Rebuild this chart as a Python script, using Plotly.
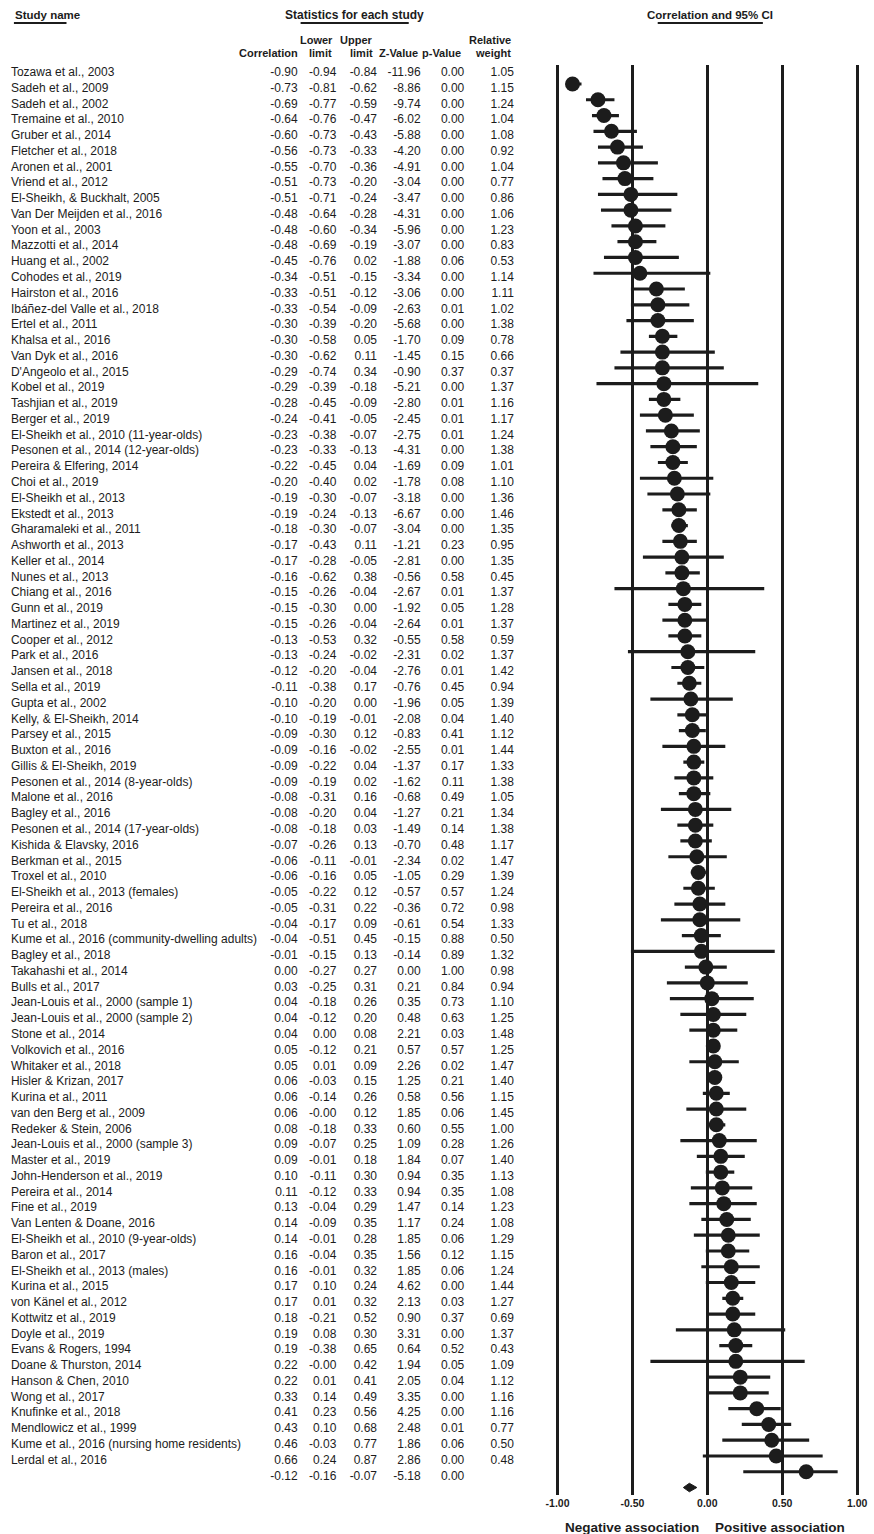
import plotly.graph_objects as go

# ---- study-level statistics -------------------------------------------------
studies = [
    "Tozawa et al., 2003", "Sadeh et al., 2009", "Sadeh et al., 2002", "Tremaine et al., 2010",
    "Gruber et al., 2014", "Fletcher et al., 2018", "Aronen et al., 2001", "Vriend et al., 2012",
    "El-Sheikh, & Buckhalt, 2005", "Van Der Meijden et al., 2016", "Yoon et al., 2003",
    "Mazzotti et al., 2014", "Huang et al., 2002", "Cohodes et al., 2019", "Hairston et al., 2016",
    "Ibáñez-del Valle et al., 2018", "Ertel et al., 2011", "Khalsa et al., 2016", "Van Dyk et al., 2016",
    "D'Angeolo et al., 2015", "Kobel et al., 2019", "Tashjian et al., 2019", "Berger et al., 2019",
    "El-Sheikh et al., 2010 (11-year-olds)", "Pesonen et al., 2014 (12-year-olds)",
    "Pereira & Elfering, 2014", "Choi et al., 2019", "El-Sheikh et al., 2013", "Ekstedt et al., 2013",
    "Gharamaleki et al., 2011", "Ashworth et al., 2013", "Keller et al., 2014", "Nunes et al., 2013",
    "Chiang et al., 2016", "Gunn et al., 2019", "Martinez et al., 2019", "Cooper et al., 2012",
    "Park et al., 2016", "Jansen et al., 2018", "Sella et al., 2019", "Gupta et al., 2002",
    "Kelly, & El-Sheikh, 2014", "Parsey et al., 2015", "Buxton et al., 2016", "Gillis & El-Sheikh, 2019",
    "Pesonen et al., 2014 (8-year-olds)", "Malone et al., 2016", "Bagley et al., 2016",
    "Pesonen et al., 2014 (17-year-olds)", "Kishida & Elavsky, 2016", "Berkman et al., 2015",
    "Troxel et al., 2010", "El-Sheikh et al., 2013 (females)", "Pereira et al., 2016", "Tu et al., 2018",
    "Kume et al., 2016 (community-dwelling adults)", "Bagley et al., 2018", "Takahashi et al., 2014",
    "Bulls et al., 2017", "Jean-Louis et al., 2000 (sample 1)", "Jean-Louis et al., 2000 (sample 2)",
    "Stone et al., 2014", "Volkovich et al., 2016", "Whitaker et al., 2018", "Hisler & Krizan, 2017",
    "Kurina et al., 2011", "van den Berg et al., 2009", "Redeker & Stein, 2006",
    "Jean-Louis et al., 2000 (sample 3)", "Master et al., 2019", "John-Henderson et al., 2019",
    "Pereira et al., 2014", "Fine et al., 2019", "Van Lenten & Doane, 2016",
    "El-Sheikh et al., 2010 (9-year-olds)", "Baron et al., 2017", "El-Sheikh et al., 2013 (males)",
    "Kurina et al., 2015", "von Känel et al., 2012", "Kottwitz et al., 2019", "Doyle et al., 2019",
    "Evans & Rogers, 1994", "Doane & Thurston, 2014", "Hanson & Chen, 2010", "Wong et al., 2017",
    "Knufinke et al., 2018", "Mendlowicz et al., 1999", "Kume et al., 2016 (nursing home residents)",
    "Lerdal et al., 2016",
]

correlation = [
    -0.90, -0.73, -0.69, -0.64, -0.60, -0.56, -0.55, -0.51, -0.51, -0.48, -0.48, -0.48, -0.45,
    -0.34, -0.33, -0.33, -0.30, -0.30, -0.30, -0.29, -0.29, -0.28, -0.24, -0.23, -0.23, -0.22,
    -0.20, -0.19, -0.19, -0.18, -0.17, -0.17, -0.16, -0.15, -0.15, -0.15, -0.13, -0.13, -0.12,
    -0.11, -0.10, -0.10, -0.09, -0.09, -0.09, -0.09, -0.08, -0.08, -0.08, -0.07, -0.06, -0.06,
    -0.05, -0.05, -0.04, -0.04, -0.01, 0.00, 0.03, 0.04, 0.04, 0.04, 0.05, 0.05, 0.06, 0.06,
    0.06, 0.08, 0.09, 0.09, 0.10, 0.11, 0.13, 0.14, 0.14, 0.16, 0.16, 0.17, 0.17, 0.18, 0.19,
    0.19, 0.22, 0.22, 0.33, 0.41, 0.43, 0.46, 0.66,
]

lower_limit = [
    -0.94, -0.81, -0.77, -0.76, -0.73, -0.73, -0.70, -0.73, -0.71, -0.64, -0.60, -0.69, -0.76,
    -0.51, -0.51, -0.54, -0.39, -0.58, -0.62, -0.74, -0.39, -0.45, -0.41, -0.38, -0.33, -0.45,
    -0.40, -0.30, -0.24, -0.30, -0.43, -0.28, -0.62, -0.26, -0.30, -0.26, -0.53, -0.24, -0.20,
    -0.38, -0.20, -0.19, -0.30, -0.16, -0.22, -0.19, -0.31, -0.20, -0.18, -0.26, -0.11, -0.16,
    -0.22, -0.31, -0.17, -0.51, -0.15, -0.27, -0.25, -0.18, -0.12, 0.00, -0.12, 0.01, -0.03,
    -0.14, -0.00, -0.18, -0.07, -0.01, -0.11, -0.12, -0.04, -0.09, -0.01, -0.04, -0.01, 0.10,
    0.01, -0.21, 0.08, -0.38, -0.00, 0.01, 0.14, 0.23, 0.10, -0.03, 0.24,
]

upper_limit = [
    -0.84, -0.62, -0.59, -0.47, -0.43, -0.33, -0.36, -0.20, -0.24, -0.28, -0.34, -0.19, 0.02,
    -0.15, -0.12, -0.09, -0.20, 0.05, 0.11, 0.34, -0.18, -0.09, -0.05, -0.07, -0.13, 0.04,
    0.02, -0.07, -0.13, -0.07, 0.11, -0.05, 0.38, -0.04, 0.00, -0.04, 0.32, -0.02, -0.04,
    0.17, 0.00, -0.01, 0.12, -0.02, 0.04, 0.02, 0.16, 0.04, 0.03, 0.13, -0.01, 0.05,
    0.12, 0.22, 0.09, 0.45, 0.13, 0.27, 0.31, 0.26, 0.20, 0.08, 0.21, 0.09, 0.15,
    0.26, 0.12, 0.33, 0.25, 0.18, 0.30, 0.33, 0.29, 0.35, 0.28, 0.35, 0.32, 0.24,
    0.32, 0.52, 0.30, 0.65, 0.42, 0.41, 0.49, 0.56, 0.68, 0.77, 0.87,
]

z_value = [
    -11.96, -8.86, -9.74, -6.02, -5.88, -4.20, -4.91, -3.04, -3.47, -4.31, -5.96, -3.07, -1.88,
    -3.34, -3.06, -2.63, -5.68, -1.70, -1.45, -0.90, -5.21, -2.80, -2.45, -2.75, -4.31, -1.69,
    -1.78, -3.18, -6.67, -3.04, -1.21, -2.81, -0.56, -2.67, -1.92, -2.64, -0.55, -2.31, -2.76,
    -0.76, -1.96, -2.08, -0.83, -2.55, -1.37, -1.62, -0.68, -1.27, -1.49, -0.70, -2.34, -1.05,
    -0.57, -0.36, -0.61, -0.15, -0.14, 0.00, 0.21, 0.35, 0.48, 2.21, 0.57, 2.26, 1.25,
    0.58, 1.85, 0.60, 1.09, 1.84, 0.94, 0.94, 1.47, 1.17, 1.85, 1.56, 1.85, 4.62,
    2.13, 0.90, 3.31, 0.64, 1.94, 2.05, 3.35, 4.25, 2.48, 1.86, 2.86,
]

p_value = [
    0.00, 0.00, 0.00, 0.00, 0.00, 0.00, 0.00, 0.00, 0.00, 0.00, 0.00, 0.00, 0.06,
    0.00, 0.00, 0.01, 0.00, 0.09, 0.15, 0.37, 0.00, 0.01, 0.01, 0.01, 0.00, 0.09,
    0.08, 0.00, 0.00, 0.00, 0.23, 0.00, 0.58, 0.01, 0.05, 0.01, 0.58, 0.02, 0.01,
    0.45, 0.05, 0.04, 0.41, 0.01, 0.17, 0.11, 0.49, 0.21, 0.14, 0.48, 0.02, 0.29,
    0.57, 0.72, 0.54, 0.88, 0.89, 1.00, 0.84, 0.73, 0.63, 0.03, 0.57, 0.02, 0.21,
    0.56, 0.06, 0.55, 0.28, 0.07, 0.35, 0.35, 0.14, 0.24, 0.06, 0.12, 0.06, 0.00,
    0.03, 0.37, 0.00, 0.52, 0.05, 0.04, 0.00, 0.00, 0.01, 0.06, 0.00,
]

relative_weight = [
    1.05, 1.15, 1.24, 1.04, 1.08, 0.92, 1.04, 0.77, 0.86, 1.06, 1.23, 0.83, 0.53,
    1.14, 1.11, 1.02, 1.38, 0.78, 0.66, 0.37, 1.37, 1.16, 1.17, 1.24, 1.38, 1.01,
    1.10, 1.36, 1.46, 1.35, 0.95, 1.35, 0.45, 1.37, 1.28, 1.37, 0.59, 1.37, 1.42,
    0.94, 1.39, 1.40, 1.12, 1.44, 1.33, 1.38, 1.05, 1.34, 1.38, 1.17, 1.47, 1.39,
    1.24, 0.98, 1.33, 0.50, 1.32, 0.98, 0.94, 1.10, 1.25, 1.48, 1.25, 1.47, 1.40,
    1.15, 1.45, 1.00, 1.26, 1.40, 1.13, 1.08, 1.23, 1.08, 1.29, 1.15, 1.24, 1.44,
    1.27, 0.69, 1.37, 0.43, 1.09, 1.12, 1.16, 1.16, 0.77, 0.50, 0.48,
]

# pooled estimate
pooled_correlation = -0.12
pooled_lower = -0.16
pooled_upper = -0.07
pooled_z = -5.18
pooled_p = 0.00

axis_ticks = [-1.0, -0.5, 0.0, 0.5, 1.0]

# ---- page geometry (pixels) -------------------------------------------------
W, H = 874, 1534
ROW = 15.77            # row pitch
TEXT_Y0 = 73           # first table row
PLOT_Y0 = 84           # first marker row
PLOT_TOP, PLOT_BOT = 65, 1495
X_MINUS1, X_PLUS1 = 558, 860
XPAD = 0.05
COL_RIGHT = [296, 335, 376, 420, 464, 514]
NAME_X = 7

INK = "#1c1c1c"
BODY_FONT = "Liberation Sans, Arial, sans-serif"
HEAD_FONT = "Liberation Sans Narrow, Arial Narrow, Liberation Sans, Arial, sans-serif"
BODY_SIZE = 12


def py(y):
    return 1 - y / H


n = len(studies)
rows = list(range(n))
fmt = lambda v: f"{v:.2f}"

fig = go.Figure()

# ---- forest plot ------------------------------------------------------------
fig.add_trace(go.Scatter(
    x=correlation, y=rows, mode="markers",
    marker=dict(size=15, color=INK, line=dict(width=0)),
    error_x=dict(type="data", symmetric=False,
                 array=[u - c for u, c in zip(upper_limit, correlation)],
                 arrayminus=[c - l for c, l in zip(correlation, lower_limit)],
                 color=INK, thickness=3.2, width=0),
    xaxis="x", yaxis="y", hoverinfo="skip", showlegend=False,
))

half_h = 0.27
fig.add_trace(go.Scatter(
    x=[pooled_lower, pooled_correlation, pooled_upper, pooled_correlation, pooled_lower],
    y=[n, n - half_h, n, n + half_h, n],
    mode="lines", fill="toself", fillcolor=INK, line=dict(color=INK, width=1),
    xaxis="x", yaxis="y", hoverinfo="skip", showlegend=False,
))

# ---- statistics table ---------------------------------------------------------
table_rows = rows + [n]
fig.add_trace(go.Scatter(
    x=[NAME_X] * n, y=rows, text=studies, mode="text", textposition="middle right",
    textfont=dict(family=BODY_FONT, size=BODY_SIZE, color=INK),
    xaxis="x2", yaxis="y2", hoverinfo="skip", showlegend=False, cliponaxis=False,
))

columns = [
    correlation + [pooled_correlation],
    lower_limit + [pooled_lower],
    upper_limit + [pooled_upper],
    z_value + [pooled_z],
    p_value + [pooled_p],
    relative_weight,
]
for right, values in zip(COL_RIGHT, columns):
    fig.add_trace(go.Scatter(
        x=[right] * len(values), y=table_rows[:len(values)],
        text=[fmt(v) for v in values], mode="text", textposition="middle left",
        textfont=dict(family=BODY_FONT, size=BODY_SIZE, color=INK),
        xaxis="x2", yaxis="y2", hoverinfo="skip", showlegend=False, cliponaxis=False,
    ))

# ---- headers ------------------------------------------------------------------
annotations = []


def head(text, x, y, anchor, size=11):
    annotations.append(dict(
        text=f"<b>{text}</b>", x=x / W, y=py(y), xref="paper", yref="paper",
        xanchor=anchor, yanchor="middle", showarrow=False,
        font=dict(family=HEAD_FONT, size=size, color=INK),
    ))


head("Study name", 9, 15, "left", 11.5)
head("Statistics for each study", 353, 15, "center", 12)
head("Correlation and 95% CI", 712, 15, "center", 11.5)

head("Lower", 334, 40, "right", 11)
head("Upper", 374, 40, "right", 11)
head("Relative", 513, 40, "right", 11)
head("Correlation", 298, 53, "right", 11)
head("limit", 333, 53, "right", 11)
head("limit", 374, 53, "right", 11)
head("Z-Value", 419, 53, "right", 11)
head("p-Value", 463, 53, "right", 11)
head("weight", 513, 53, "right", 11)

head("Negative association", 703, 1527, "right", 13.5)
head("Positive association", 715, 1527, "left", 13.5)

shapes = []
for x0, x1 in [(10, 63), (299, 408), (659, 765)]:
    shapes.append(dict(type="line", xref="paper", yref="paper",
                       x0=x0 / W, x1=x1 / W, y0=py(23), y1=py(23),
                       line=dict(color=INK, width=2)))

# ---- axes -------------------------------------------------------------------
px_per_unit = (X_PLUS1 - X_MINUS1) / 2
x_left = X_MINUS1 - XPAD * px_per_unit
x_right = X_PLUS1 + XPAD * px_per_unit

fig.update_layout(
    width=W, height=H,
    margin=dict(l=0, r=0, t=0, b=0),
    paper_bgcolor="white", plot_bgcolor="rgba(0,0,0,0)",
    showlegend=False,
    annotations=annotations, shapes=shapes,
    xaxis=dict(
        domain=[x_left / W, x_right / W], range=[-1 - XPAD, 1 + XPAD],
        tickvals=axis_ticks, ticktext=[f"<b>{v:.2f}</b>" for v in axis_ticks],
        tickfont=dict(family=HEAD_FONT, size=10.5, color=INK),
        showgrid=True, gridcolor=INK, gridwidth=3, zeroline=False,
        showline=False, ticks="", ticklabelstandoff=0, fixedrange=True,
        anchor="y",
    ),
    yaxis=dict(
        domain=[py(PLOT_BOT), py(PLOT_TOP)],
        range=[(PLOT_BOT - PLOT_Y0) / ROW, (PLOT_TOP - PLOT_Y0) / ROW],
        visible=False, showgrid=False, zeroline=False, fixedrange=True,
        anchor="x",
    ),
    xaxis2=dict(domain=[0, 1], range=[0, W], visible=False, anchor="y2", fixedrange=True),
    yaxis2=dict(domain=[0, 1], range=[(H - TEXT_Y0) / ROW, -TEXT_Y0 / ROW],
                visible=False, anchor="x2", fixedrange=True),
)

fig.write_html("out.html")
